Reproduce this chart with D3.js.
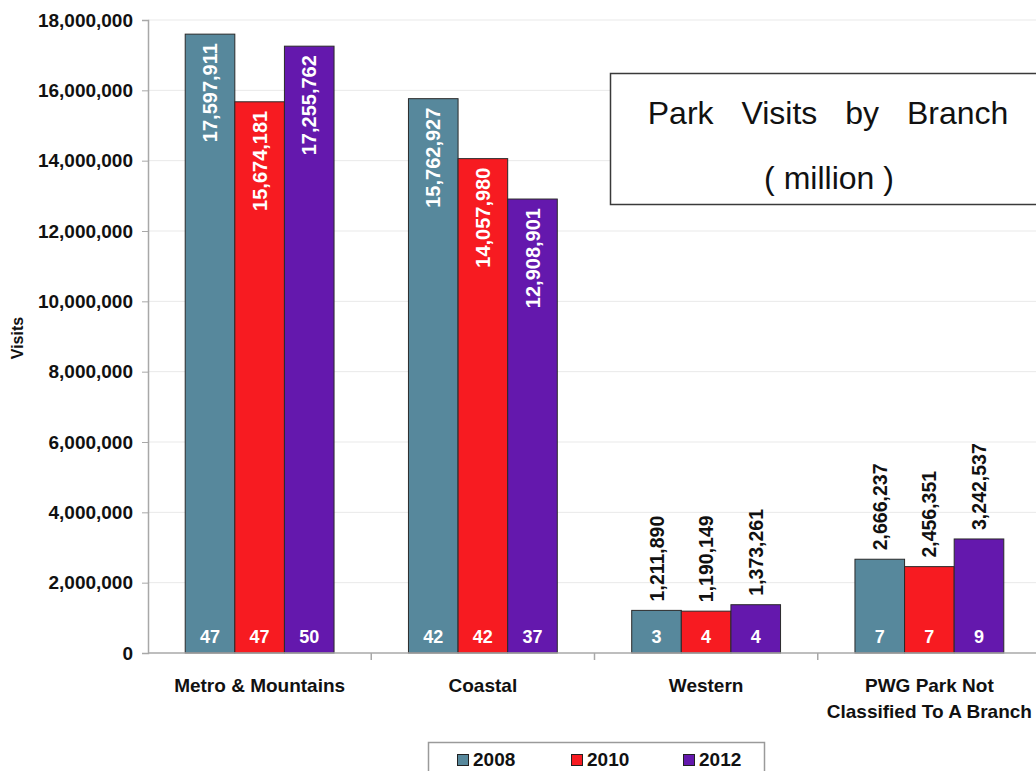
<!DOCTYPE html>
<html>
<head>
<meta charset="utf-8">
<script src="https://cdn.jsdelivr.net/npm/d3@7"></script>
<style>
  html, body { margin: 0; padding: 0; background: #fff; }
  svg { display: block; font-family: Arial, "Liberation Sans", sans-serif; }
</style>
</head>
<body>
<svg id="chart" width="1036" height="771"></svg>
<script>
// Park visits per branch, by survey year
const branches = ["Metro & Mountains", "Coastal", "Western", "PWG Park Not Classified To A Branch"];
const branchLines = [["Metro & Mountains"], ["Coastal"], ["Western"], ["PWG Park Not", "Classified To A Branch"]];
const years = ["2008", "2010", "2012"];
const visits2008 = [17597911, 15762927, 1211890, 2666237];
const visits2010 = [15674181, 14057980, 1190149, 2456351];
const visits2012 = [17255762, 12908901, 1373261, 3242537];
// number of parks counted in each bar
const parks2008 = [47, 42, 3, 7];
const parks2010 = [47, 42, 4, 7];
const parks2012 = [50, 37, 4, 9];
const yTicks = [0, 2000000, 4000000, 6000000, 8000000, 10000000, 12000000, 14000000, 16000000, 18000000];
const yearColors = ["#57889c", "#f71b21", "#6418ad"];

const visitsByYear = [visits2008, visits2010, visits2012];
const parksByYear = [parks2008, parks2010, parks2012];

const svg = d3.select("#chart");
const plotLeft = 148, plotTop = 20, plotBottom = 653, plotRight = 1041;

const y = d3.scaleLinear().domain([0, 18000000]).range([plotBottom, plotTop]);
const x0 = d3.scaleBand().domain(branches).range([plotLeft, plotRight]).paddingInner(1 / 3).paddingOuter(1 / 6);
const x1 = d3.scaleBand().domain(years).range([0, x0.bandwidth()]);
const color = d3.scaleOrdinal().domain(years).range(yearColors);
const fmt = d3.format(",");

// gridlines
svg.append("g")
  .selectAll("line").data(yTicks.slice(1)).join("line")
  .attr("x1", plotLeft).attr("x2", 1036)
  .attr("y1", d => y(d)).attr("y2", d => y(d))
  .attr("stroke", "#e9e9e9").attr("stroke-width", 1);

// title box
svg.append("rect")
  .attr("x", 610.5).attr("y", 73.5).attr("width", 440).attr("height", 131)
  .attr("fill", "#fff").attr("stroke", "#3a3a3a").attr("stroke-width", 1.5);
svg.append("text")
  .attr("x", 828).attr("y", 124).attr("text-anchor", "middle")
  .attr("font-size", 32).attr("fill", "#111").attr("word-spacing", 19)
  .text("Park Visits by Branch");
svg.append("text")
  .attr("x", 829).attr("y", 189).attr("text-anchor", "middle")
  .attr("font-size", 32).attr("fill", "#111")
  .text("( million )");

// y axis
const yAxis = svg.append("g")
  .attr("transform", `translate(${plotLeft},0)`)
  .call(d3.axisLeft(y).tickValues(yTicks).tickFormat(fmt).tickSize(6).tickPadding(9));
yAxis.select(".domain").attr("stroke", "#a8a8a8").attr("stroke-width", 1.5);
yAxis.selectAll(".tick line").attr("stroke", "#a8a8a8");
yAxis.selectAll(".tick text")
  .attr("font-size", 19).attr("font-weight", "bold").attr("fill", "#111")
  .attr("font-family", "Arial, 'Liberation Sans', sans-serif");

svg.append("text")
  .attr("transform", "translate(23,338) rotate(-90)")
  .attr("text-anchor", "middle").attr("font-size", 16).attr("font-weight", "bold").attr("fill", "#111")
  .text("Visits");

// bars
const rows = [];
branches.forEach((b, i) => {
  years.forEach((yr, j) => {
    rows.push({ branch: b, year: yr, value: visitsByYear[j][i], parks: parksByYear[j][i] });
  });
});

const bars = svg.append("g");
bars.selectAll("rect").data(rows).join("rect")
  .attr("x", d => x0(d.branch) + x1(d.year))
  .attr("y", d => y(d.value))
  .attr("width", x1.bandwidth())
  .attr("height", d => y(0) - y(d.value))
  .attr("fill", d => color(d.year))
  .attr("stroke", "#2a2a2a").attr("stroke-width", 1);

// value labels: inside for tall bars, above for short ones
const insideLimit = 5000000;
svg.append("g").selectAll("text").data(rows).join("text")
  .attr("transform", d => {
    const cx = x0(d.branch) + x1(d.year) + x1.bandwidth() / 2;
    const ty = d.value > insideLimit ? y(d.value) + 9 : y(d.value) - 9;
    return `translate(${cx},${ty}) rotate(-90)`;
  })
  .attr("dy", "0.36em")
  .attr("text-anchor", d => d.value > insideLimit ? "end" : "start")
  .attr("font-size", d => d.value > insideLimit ? 20 : 19.5).attr("font-weight", "bold")
  .attr("fill", d => d.value > insideLimit ? "#fff" : "#111")
  .text(d => fmt(d.value));

// park counts at bar bases
svg.append("g").selectAll("text").data(rows).join("text")
  .attr("x", d => x0(d.branch) + x1(d.year) + x1.bandwidth() / 2)
  .attr("y", 643)
  .attr("text-anchor", "middle")
  .attr("font-size", 18).attr("font-weight", "bold").attr("fill", "#fff")
  .text(d => d.parks);

// category axis
svg.append("line")
  .attr("x1", plotLeft).attr("x2", 1036).attr("y1", plotBottom).attr("y2", plotBottom)
  .attr("stroke", "#a8a8a8").attr("stroke-width", 1.5);
const step = x0.step();
svg.append("g").selectAll("line").data(d3.range(1, branches.length)).join("line")
  .attr("x1", k => plotLeft + step * k).attr("x2", k => plotLeft + step * k)
  .attr("y1", plotBottom).attr("y2", plotBottom + 7)
  .attr("stroke", "#a8a8a8").attr("stroke-width", 1.5);

svg.append("g").selectAll("text").data(branches).join("text")
  .attr("x", d => x0(d) + x0.bandwidth() / 2)
  .attr("y", 692)
  .attr("text-anchor", "middle")
  .attr("font-size", 19).attr("font-weight", "bold").attr("fill", "#111")
  .each(function (d, i) {
    d3.select(this).selectAll("tspan").data(branchLines[i]).join("tspan")
      .attr("x", x0(d) + x0.bandwidth() / 2)
      .attr("dy", (t, k) => k === 0 ? 0 : 26)
      .text(t => t);
  });

// legend
const legend = svg.append("g");
legend.append("rect")
  .attr("x", 428.5).attr("y", 742.5).attr("width", 336).attr("height", 45)
  .attr("fill", "#fff").attr("stroke", "#9a9a9a").attr("stroke-width", 1.5);
const legendX = [457, 571, 683];
const item = legend.selectAll("g").data(years).join("g")
  .attr("transform", (d, i) => `translate(${legendX[i]},0)`);
item.append("rect")
  .attr("x", 0.5).attr("y", 754.5).attr("width", 11).attr("height", 11)
  .attr("fill", d => color(d)).attr("stroke", "#222").attr("stroke-width", 1);
item.append("text")
  .attr("x", 16).attr("y", 766)
  .attr("font-size", 19).attr("font-weight", "bold").attr("fill", "#111")
  .text(d => d);
</script>
</body>
</html>
